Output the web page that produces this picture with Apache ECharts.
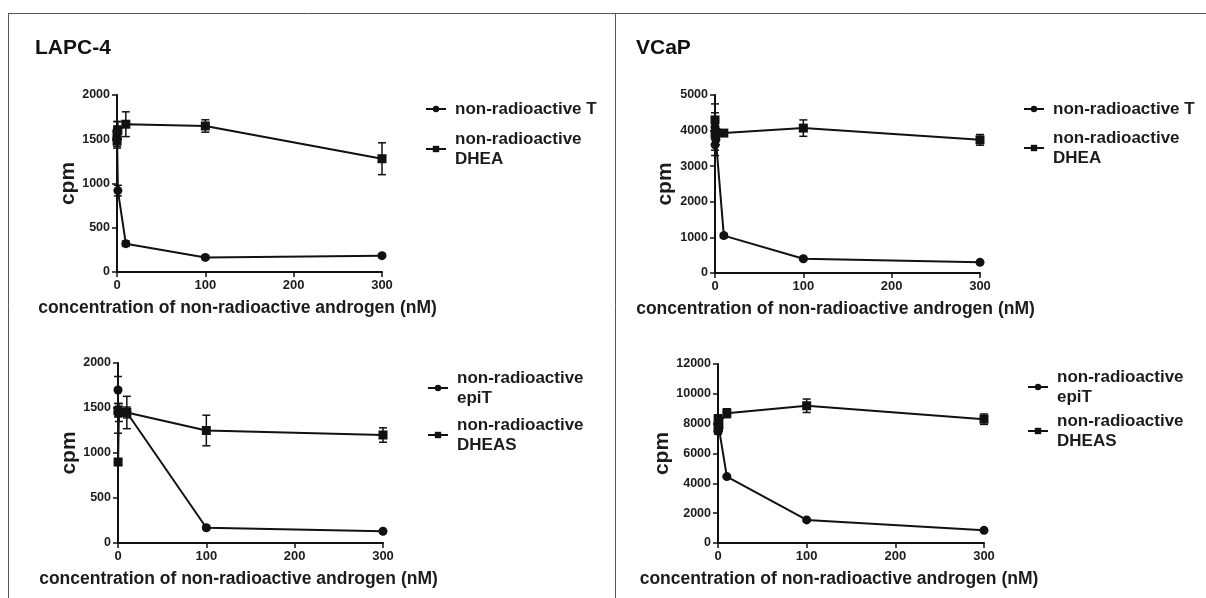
<!DOCTYPE html>
<html>
<head>
<meta charset="utf-8">
<script src="https://cdn.jsdelivr.net/npm/echarts@6/dist/echarts.min.js"></script>
<style>
  html, body { margin: 0; padding: 0; background: #fff; }
  #main { width: 1206px; height: 598px; }
</style>
</head>
<body>
<div id="main"></div>
<script>
// concentrations of non-radioactive androgen (nM)
var concNM = [0, 0.1, 1, 10, 100, 300];
var xTicks = [0, 100, 200, 300];

// LAPC-4, top
var lapcT = [1600, 1500, 920, 320, 165, 185];
var lapcTErr = [100, 80, 60, 30, 20, 20];
var lapcDHEA = [1550, 1480, 1600, 1670, 1650, 1280];
var lapcDHEAErr = [100, 80, 100, 140, 70, 180];

// VCaP, top
var vcapT = [4100, 3600, 3750, 1050, 400, 300];
var vcapTErr = [650, 300, 150, 60, 40, 30];
var vcapDHEA = [4300, 3900, 3950, 3930, 4070, 3740];
var vcapDHEAErr = [200, 150, 100, 60, 230, 150];

// LAPC-4, bottom
var lapcEpiT = [1700, 1450, 1470, 1450, 170, 130];
var lapcEpiTErr = [150, 50, 50, 60, 20, 15];
var lapcDHEAS = [1470, 900, 1450, 1450, 1250, 1200];
var lapcDHEASErr = [250, 30, 100, 180, 170, 80];

// VCaP, bottom
var vcapEpiT = [8000, 7500, 7700, 4450, 1550, 850];
var vcapEpiTErr = [300, 200, 200, 100, 80, 60];
var vcapDHEAS = [7700, 8300, 8000, 8700, 9200, 8300];
var vcapDHEASErr = [400, 300, 200, 300, 450, 350];

var ink = '#111';
var textInk = '#1c1c1c';
var font = 'Liberation Sans, Arial, sans-serif';

function pairs(ys) {
  return ys.map(function (y, i) { return [concNM[i], y]; });
}
function bars(ys, errs) {
  return ys.map(function (y, i) { return [concNM[i], y - errs[i], y + errs[i]]; });
}

//误差线
function errorBarItem(params, api) {
  var x = api.value(0);
  var top = api.coord([x, api.value(2)]);
  var bot = api.coord([x, api.value(1)]);
  var w = 4;
  var st = { stroke: ink, lineWidth: 1.5 };
  return {
    type: 'group',
    children: [
      { type: 'line', shape: { x1: top[0], y1: top[1], x2: bot[0], y2: bot[1] }, style: st },
      { type: 'line', shape: { x1: top[0] - w, y1: top[1], x2: top[0] + w, y2: top[1] }, style: st },
      { type: 'line', shape: { x1: bot[0] - w, y1: bot[1], x2: bot[0] + w, y2: bot[1] }, style: st }
    ]
  };
}

var panels = [
  { grid: { left: 117, top: 95, width: 265, height: 177 }, yMax: 2000, yStep: 500, cpmGap: 23,
    a: ['non-radioactive T', lapcT, lapcTErr], b: ['non-radioactive\nDHEA', lapcDHEA, lapcDHEAErr],
    legLeft: 425, legTops: [99, 129] },
  { grid: { left: 715, top: 95, width: 265, height: 178 }, yMax: 5000, yStep: 1000, cpmGap: 39,
    a: ['non-radioactive T', vcapT, vcapTErr], b: ['non-radioactive\nDHEA', vcapDHEA, vcapDHEAErr],
    legLeft: 1023, legTops: [99, 128] },
  { grid: { left: 118, top: 363, width: 265, height: 180 }, yMax: 2000, yStep: 500, cpmGap: 26,
    a: ['non-radioactive\nepiT', lapcEpiT, lapcEpiTErr], b: ['non-radioactive\nDHEAS', lapcDHEAS, lapcDHEASErr],
    legLeft: 427, legTops: [368, 415] },
  { grid: { left: 718, top: 364, width: 266, height: 179 }, yMax: 12000, yStep: 2000, cpmGap: 45,
    a: ['non-radioactive\nepiT', vcapEpiT, vcapEpiTErr], b: ['non-radioactive\nDHEAS', vcapDHEAS, vcapDHEASErr],
    legLeft: 1027, legTops: [367, 411] }
];

var grids = [], xAxes = [], yAxes = [], series = [], legends = [];

panels.forEach(function (p, i) {
  grids.push(p.grid);
  xAxes.push({
    type: 'value', gridIndex: i, min: xTicks[0], max: xTicks[xTicks.length - 1], interval: 100,
    splitLine: { show: false },
    axisLine: { lineStyle: { color: ink, width: 2 } },
    axisTick: { inside: false, length: 5, lineStyle: { color: ink, width: 1.5 } },
    axisLabel: { color: textInk, fontSize: 13, fontWeight: 'bold', fontFamily: font, margin: 7 },
    name: 'concentration of non-radioactive androgen (nM)',
    nameLocation: 'middle', nameGap: 27,
    nameTextStyle: { color: textInk, fontSize: 17.5, fontWeight: 'bold', fontFamily: font, padding: [0, 24, 0, 0] }
  });
  yAxes.push({
    type: 'value', gridIndex: i, min: 0, max: p.yMax, interval: p.yStep,
    splitLine: { show: false },
    axisLine: { show: true, lineStyle: { color: ink, width: 2 } },
    axisTick: { show: true, inside: false, length: 5, lineStyle: { color: ink, width: 1.5 } },
    axisLabel: { color: textInk, fontSize: 12.5, fontWeight: 'bold', fontFamily: font, margin: 7,
      formatter: function (v) { return String(v); } },
    name: 'cpm', nameLocation: 'middle', nameGap: p.cpmGap,
    nameTextStyle: { color: textInk, fontSize: 21, fontWeight: 'bold', fontFamily: font }
  });

  [[p.a, 'circle', 9], [p.b, 'rect', 9]].forEach(function (s) {
    series.push({
      type: 'custom', xAxisIndex: i, yAxisIndex: i, renderItem: errorBarItem,
      encode: { x: 0, y: [1, 2] }, data: bars(s[0][1], s[0][2]), z: 2, silent: true
    });
    series.push({
      type: 'line', name: s[0][0], xAxisIndex: i, yAxisIndex: i, data: pairs(s[0][1]),
      symbol: s[1], symbolSize: s[2], showSymbol: true,
      lineStyle: { color: ink, width: 2 }, itemStyle: { color: ink }, z: 3
    });
  });

  [p.a[0], p.b[0]].forEach(function (nm, k) {
    legends.push({
      data: [nm], left: p.legLeft, top: p.legTops[k], itemWidth: 20, itemHeight: 8,
      padding: 0, selectedMode: false,
      textStyle: { color: textInk, fontSize: 17, fontWeight: 'bold', fontFamily: font, lineHeight: 20, padding: [0, 0, 0, 4] }
    });
  });
});

var chart = echarts.init(document.getElementById('main'), null, { renderer: 'canvas' });
chart.setOption({
  animation: false,
  backgroundColor: '#fff',
  title: [
    { text: 'LAPC-4', left: 30, top: 33, textStyle: { color: '#111', fontSize: 21, fontWeight: 'bold', fontFamily: font } },
    { text: 'VCaP', left: 631, top: 33, textStyle: { color: '#111', fontSize: 21, fontWeight: 'bold', fontFamily: font } }
  ],
  graphic: [
    { type: 'line', shape: { x1: 8, y1: 13.5, x2: 1206, y2: 13.5 }, style: { stroke: '#555', lineWidth: 1 } },
    { type: 'line', shape: { x1: 8.5, y1: 13, x2: 8.5, y2: 598 }, style: { stroke: '#555', lineWidth: 1 } },
    { type: 'line', shape: { x1: 615.5, y1: 13, x2: 615.5, y2: 598 }, style: { stroke: '#555', lineWidth: 1 } }
  ],
  legend: legends,
  grid: grids,
  xAxis: xAxes,
  yAxis: yAxes,
  series: series
});
</script>
</body>
</html>
